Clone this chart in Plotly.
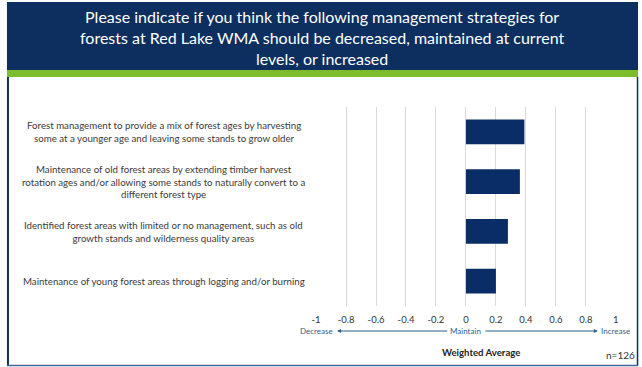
import plotly.graph_objects as go

W, H = 642, 367

# Survey strategies (top to bottom) and their weighted average response
strategies = [
    "Forest management to provide a mix of forest ages by harvesting<br>some at a younger age and leaving some stands to grow older",
    "Maintenance of old forest areas by extending timber harvest<br>rotation ages and/or allowing some stands to naturally convert to a<br>different forest type",
    "Identified forest areas with limited or no management, such as old<br>growth stands and wilderness quality areas",
    "Maintenance of young forest areas through logging and/or burning",
]
weighted_avg = [0.39, 0.36, 0.28, 0.20]
tick_vals = [-1, -0.8, -0.6, -0.4, -0.2, 0, 0.2, 0.4, 0.6, 0.8, 1]
tick_text = ["-1", "-0.8", "-0.6", "-0.4", "-0.2", "0", "0.2", "0.4", "0.6", "0.8", "1"]
scale_words = {-1: "Decrease", 0: "Maintain", 1: "Increase"}

title = ("Please indicate if you think the following management strategies for<br>"
         "forests at Red Lake WMA should be decreased, maintained at current<br>"
         "levels, or increased")

NAVY = "#0c2f5f"
BAR = "#0a2d67"
GREEN = "#7cbb2b"
FONT = "Lato"


def px(x):
    return x / W


def py(y):
    return 1 - y / H


fig = go.Figure(go.Bar(
    x=weighted_avg,
    y=list(range(len(strategies))),
    orientation="h",
    marker=dict(color=BAR, line=dict(width=0)),
    width=0.5,
    hoverinfo="x",
))

annotations = []
# category labels, centred in the left column and aligned with each bar
for i, s in enumerate(strategies):
    annotations.append(dict(
        x=px(161), xref="paper", y=i, yref="y", text=s, showarrow=False,
        xanchor="center", yanchor="middle", align="center",
        font=dict(family=FONT, size=9.7, color="#3a3a3a"),
    ))

# scale words under the axis
for v, word in scale_words.items():
    annotations.append(dict(
        x=v, xref="x", y=py(331), yref="paper", text=word, showarrow=False,
        xanchor="center", yanchor="middle",
        font=dict(family=FONT, size=8, color="#2f5f8a"),
    ))

# arrows from Maintain towards Decrease / Increase
for tail, tip in [(-0.115, -0.86), (0.12, 0.88)]:
    annotations.append(dict(
        x=tip, xref="x", y=py(331), yref="paper",
        ax=tail, axref="x", ay=0, ayref="pixel",
        text="", showarrow=True, arrowhead=2, arrowsize=0.8,
        arrowwidth=1, arrowcolor="#2f5f8a",
    ))

annotations += [
    dict(x=px(482), xref="paper", y=py(352), yref="paper",
         text="<b>Weighted Average</b>", showarrow=False,
         xanchor="center", yanchor="middle",
         font=dict(family=FONT, size=9.6, color="#222222")),
    dict(x=px(623), xref="paper", y=py(355), yref="paper",
         text="n=126", showarrow=False, xanchor="center", yanchor="middle",
         font=dict(family=FONT, size=10, color="#333333")),
    dict(x=px(321), xref="paper", y=py(37), yref="paper",
         text=title, showarrow=False, xanchor="center", yanchor="middle",
         align="center",
         font=dict(family=FONT, size=16, color="white")),
]

shapes = [
    # header band and green rule
    dict(type="rect", xref="paper", yref="paper", x0=px(2), x1=px(641),
         y0=py(70), y1=py(2), fillcolor=NAVY, line=dict(width=0), layer="below"),
    dict(type="rect", xref="paper", yref="paper", x0=px(2), x1=px(641),
         y0=py(77), y1=py(70), fillcolor=GREEN, line=dict(width=0), layer="below"),
    # slide frame
    dict(type="line", xref="paper", yref="paper", x0=px(3), x1=px(3),
         y0=py(77), y1=py(366), line=dict(color=NAVY, width=2)),
    dict(type="line", xref="paper", yref="paper", x0=px(640.5), x1=px(640.5),
         y0=py(77), y1=py(366), line=dict(color=NAVY, width=1.5)),
    dict(type="line", xref="paper", yref="paper", x0=px(2), x1=px(641),
         y0=py(365.5), y1=py(365.5), line=dict(color="#3a6a94", width=1.5)),
]

fig.update_layout(
    width=W, height=H,
    margin=dict(l=0, r=0, t=0, b=0),
    paper_bgcolor="white", plot_bgcolor="white",
    showlegend=False,
    bargap=0.5,
    xaxis=dict(
        domain=[px(315), px(618.5)], range=[-1, 1],
        tickvals=tick_vals, ticktext=tick_text,
        showgrid=True, gridcolor="#d9d9d9", gridwidth=1,
        zeroline=False, showline=False, ticks="",
        ticklabelstandoff=6,
        tickfont=dict(family=FONT, size=9.5, color="#333333"),
        fixedrange=True,
    ),
    yaxis=dict(
        domain=[py(306), py(107)], range=[3.5, -0.5],
        showticklabels=False, showgrid=False, zeroline=False,
        showline=False, ticks="", fixedrange=True,
    ),
    annotations=annotations,
    shapes=shapes,
)

fig.write_html("out.html")
